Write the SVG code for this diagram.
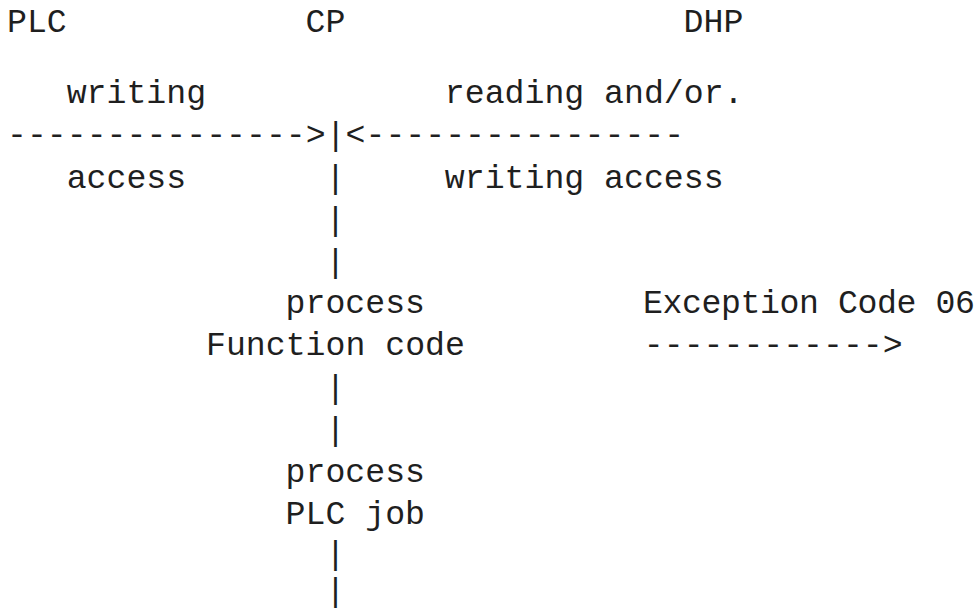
<svg xmlns="http://www.w3.org/2000/svg" width="979" height="611" viewBox="0 0 979 611">
  <style>
    text { font-family: "Liberation Mono", "Courier New", monospace; font-size: 33.2px; fill: #1f1f1f; white-space: pre; }
  </style>
  <rect x="0" y="0" width="979" height="611" fill="#ffffff"/>
  <g id="node-plc"><text x="7" y="32">PLC</text></g>
  <g id="node-cp"><text x="305.5" y="32">CP</text></g>
  <g id="node-dhp"><text x="683.6" y="32">DHP</text></g>
  <g id="label-plc-access">
    <text x="66.7" y="103">writing</text>
    <text x="66.7" y="188">access</text>
  </g>
  <g id="label-dhp-access">
    <text x="444.8" y="103">reading and/or.</text>
    <text x="444.8" y="188">writing access</text>
  </g>
  <g id="node-function-code">
    <text x="285.6" y="313">process</text>
    <text x="206" y="355">Function code</text>
  </g>
  <g id="node-plc-job">
    <text x="285.6" y="482">process</text>
    <text x="285.6" y="524">PLC job</text>
  </g>
  <g id="node-exception">
    <text x="643" y="313" textLength="332" lengthAdjust="spacing">Exception Code 06</text>
  </g>
  <g id="connectors">
    <text x="7" y="145">---------------&gt;|&lt;----------------</text>
    <text x="325.4" y="188">|</text>
    <text x="325.4" y="230">|</text>
    <text x="325.4" y="272">|</text>
    <text x="325.4" y="398">|</text>
    <text x="325.4" y="440">|</text>
    <text x="325.4" y="564">|</text>
    <text x="325.4" y="601">|</text>
    <text x="643.8" y="355">------------&gt;</text>
  </g>
</svg>
